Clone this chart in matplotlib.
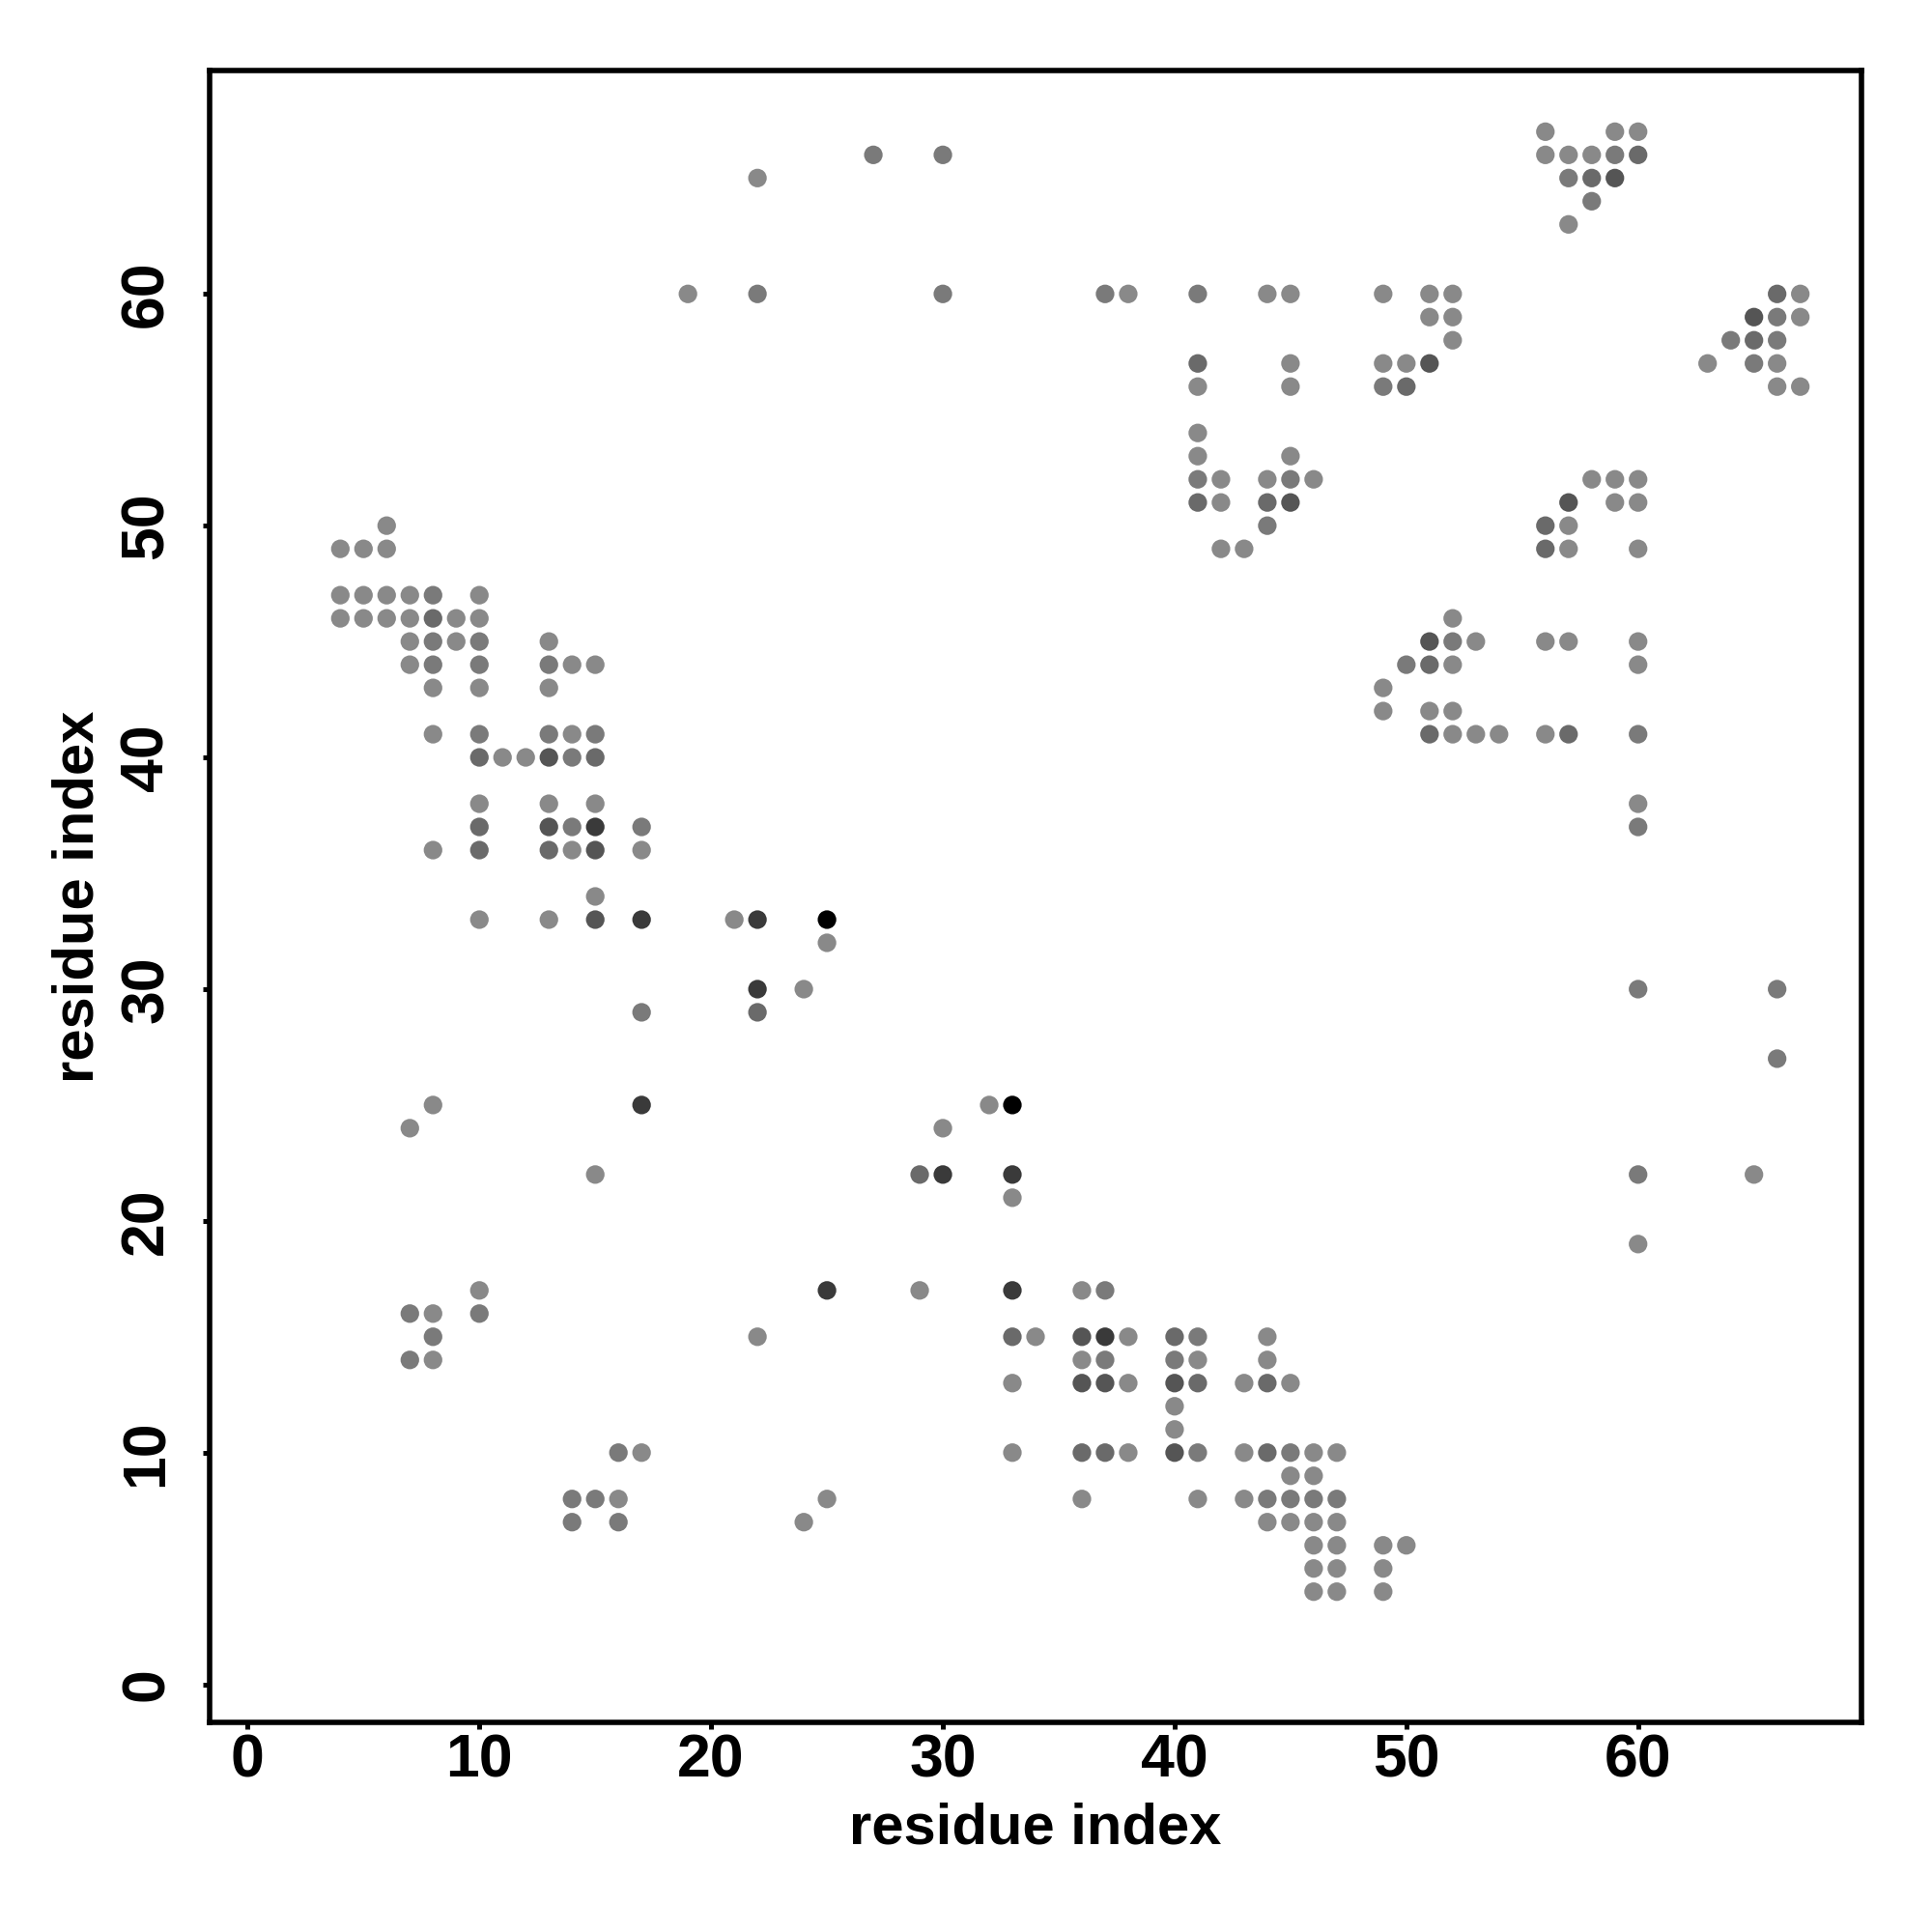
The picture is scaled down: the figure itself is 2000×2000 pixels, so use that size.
import matplotlib
matplotlib.use("Agg")
import matplotlib.pyplot as plt
from matplotlib.colors import ListedColormap
import numpy as np

# contact points: (residue i, residue j, intensity level 1..6)
pts = [
    # upper-left cluster
    (6,50,1),(4,49,1),(5,49,1),(6,49,1),
    (4,47,1),(5,47,1),(6,47,1),(7,47,1),(8,47,2),(10,47,1),
    (4,46,1),(5,46,1),(6,46,1),(7,46,1),(8,46,3),(9,46,1),(10,46,1),
    (7,45,1),(8,45,2),(9,45,1),(10,45,2),(13,45,1),
    (7,44,1),(8,44,2),(10,44,2),(13,44,2),(14,44,1),(15,44,1),
    (8,43,1),(10,43,1),(13,43,1),
    (8,41,1),(10,41,2),(13,41,2),(14,41,1),(15,41,2),
    (10,40,3),(11,40,1),(12,40,1),(13,40,4),(14,40,2),(15,40,3),
    (10,38,1),(13,38,1),(15,38,1),
    (10,37,3),(13,37,4),(14,37,2),(15,37,5),(17,37,2),
    (8,36,1),(10,36,3),(13,36,3),(14,36,1),(15,36,4),(17,36,1),
    (15,34,1),
    (10,33,1),(13,33,1),(15,33,4),(17,33,5),
    (17,29,2),
    # middle
    (21,33,1),(22,33,5),(25,33,6),(25,32,1),(22,30,5),(24,30,1),(22,29,3),
    (32,25,1),(33,25,6),(30,24,1),(29,22,3),(30,22,5),(33,22,5),(33,21,1),
    (25,17,5),(29,17,1),(33,17,5),(22,15,1),(33,15,3),(34,15,1),
    (33,13,1),(33,10,1),
    # lower-left isolated
    (8,25,1),(17,25,5),(7,24,1),(15,22,1),(10,17,1),(7,16,2),(8,16,1),(10,16,2),
    (8,15,2),(7,14,2),(8,14,1),(16,10,2),(17,10,1),(14,8,2),(15,8,2),(16,8,1),
    (25,8,1),(14,7,2),(16,7,2),(24,7,1),
    # lower diagonal cluster
    (36,17,1),(37,17,2),
    (36,15,4),(37,15,5),(38,15,1),(40,15,3),(41,15,2),(44,15,1),
    (36,14,1),(37,14,2),(40,14,2),(41,14,1),(44,14,1),
    (36,13,4),(37,13,4),(38,13,1),(40,13,4),(41,13,3),(43,13,1),(44,13,3),(45,13,1),
    (40,12,1),(40,11,1),
    (36,10,3),(37,10,3),(38,10,1),(40,10,4),(41,10,2),(43,10,1),(44,10,3),(45,10,2),
    (46,10,1),(47,10,1),
    (45,9,1),(46,9,1),
    (36,8,1),(41,8,1),(43,8,1),(44,8,2),(45,8,2),(46,8,2),(47,8,2),
    (44,7,1),(45,7,1),(46,7,1),(47,7,1),
    (46,6,1),(47,6,1),(49,6,1),(50,6,1),
    (46,5,1),(47,5,1),(49,5,1),
    (46,4,1),(47,4,1),(49,4,1),
    # top row
    (27,66,2),(30,66,2),(22,65,1),(19,60,1),(22,60,2),(30,60,2),(37,60,2),(38,60,1),
    # upper-middle cluster
    (41,60,2),(44,60,1),(45,60,1),(49,60,1),(51,60,1),(52,60,1),
    (51,59,1),(52,59,1),(52,58,1),
    (41,57,3),(45,57,1),(49,57,1),(50,57,1),(51,57,4),
    (41,56,1),(45,56,1),(49,56,2),(50,56,3),
    (41,54,1),(41,53,1),(45,53,1),
    (41,52,2),(42,52,1),(44,52,1),(45,52,2),(46,52,1),
    (41,51,3),(42,51,1),(44,51,3),(45,51,4),
    (44,50,2),(42,49,1),(43,49,1),
    (52,46,1),(51,45,4),(52,45,2),(53,45,1),
    (50,44,2),(51,44,3),(52,44,1),(49,43,1),
    (49,42,1),(51,42,1),(52,42,1),
    (51,41,3),(52,41,1),(53,41,1),(54,41,1),
    # upper-right cluster
    (56,67,1),(59,67,1),(60,67,1),
    (56,66,1),(57,66,1),(58,66,1),(59,66,2),(60,66,3),
    (57,65,2),(58,65,3),(59,65,4),(58,64,2),(57,63,1),
    (66,60,3),(67,60,1),(65,59,4),(66,59,2),(67,59,1),
    (64,58,2),(65,58,3),(66,58,2),(63,57,1),(65,57,2),(66,57,1),
    (66,56,1),(67,56,1),
    (58,52,1),(59,52,1),(60,52,1),(57,51,4),(59,51,1),(60,51,1),
    (56,50,3),(57,50,1),(56,49,3),(57,49,1),(60,49,1),
    (56,45,1),(57,45,1),(60,45,1),(60,44,1),
    (56,41,1),(57,41,3),(60,41,2),
    # right column
    (60,38,1),(60,37,2),(60,30,2),(66,30,2),(66,27,2),(60,22,2),(65,22,1),(60,19,1),
]

res_i = [p[0] for p in pts]
res_j = [p[1] for p in pts]
level = [p[2] for p in pts]

ticks = [0, 10, 20, 30, 40, 50, 60]
axis_label = "residue index"

grays = ListedColormap(["#898989", "#7a7a7a", "#6a6a6a", "#555555", "#3a3a3a", "#000000"])

plt.rcParams['font.family'] = ['Liberation Sans', 'DejaVu Sans']
fig = plt.figure(figsize=(10, 10), dpi=200)
ax = fig.add_axes([0.1085, 0.1085, 0.855, 0.855])

ax.scatter(res_i, res_j, c=level, cmap=grays, vmin=0.5, vmax=6.5, s=48,
           linewidths=0, zorder=3)

lo, hi = 1, 67
pad = 0.04 * (hi - lo)
ax.set_xlim(lo - pad, hi + pad)
ax.set_ylim(lo - pad, hi + pad)
ax.set_xticks(ticks)
ax.set_yticks(ticks)
ax.set_xticklabels([str(t) for t in ticks], fontweight='bold', fontsize=22.5)
ax.set_yticklabels([str(t) for t in ticks], fontweight='bold', fontsize=22.5,
                   rotation=90, va='center')
ax.tick_params(axis='both', direction='out', length=2.4, width=1.8, color='black')
ax.tick_params(axis='x', pad=1.5)
ax.tick_params(axis='y', pad=10.3)
for sp in ax.spines.values():
    sp.set_linewidth(2.0)
    sp.set_color('black')

ax.set_xlabel(axis_label, fontweight='bold', fontsize=21.5)
ax.set_ylabel(axis_label, fontweight='bold', fontsize=21.5)
ax.xaxis.set_label_coords(0.5, -0.048)
ax.yaxis.set_label_coords(-0.0636, 0.5)

fig.savefig("out.png", dpi=200, facecolor='white')
